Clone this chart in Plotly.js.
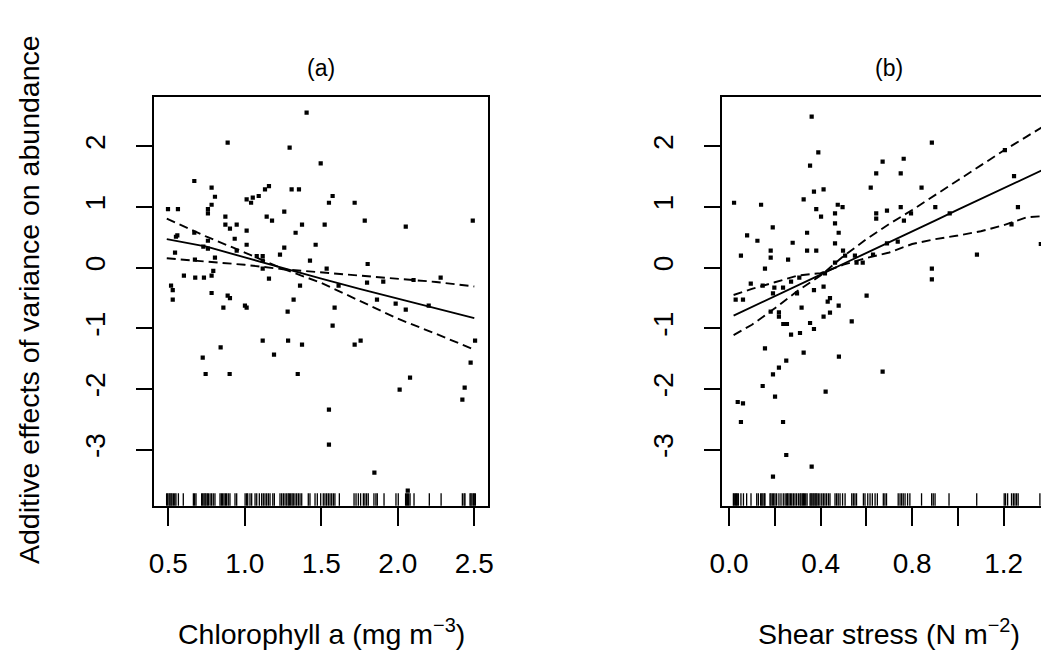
<!DOCTYPE html>
<html>
<head>
<meta charset="utf-8">
<script src="https://cdn.plot.ly/plotly-3.0.1.min.js"></script>
<style>
html,body{margin:0;padding:0;overflow:hidden;background:#fff;}
#chart{width:1100px;height:654px;}
</style>
</head>
<body>
<div id="chart"></div>
<script>
// ---------- Panel (a): Chlorophyll a ----------
const chlX = [1.404,0.888,1.293,1.496,0.670,0.783,0.805,1.012,1.041,1.052,1.091,1.132,1.158,1.306,1.354,1.574,1.550,1.718,0.783,0.759,0.759,0.498,0.563,0.873,1.143,1.178,1.258,0.873,0.947,0.903,1.012,1.374,1.522,1.784,2.052,2.490,1.332,0.670,0.550,0.559,0.934,0.759,1.012,1.463,1.258,0.729,0.759,0.947,0.544,1.230,1.078,1.117,0.805,0.674,1.117,1.426,1.803,1.535,1.117,0.794,0.783,0.602,0.676,0.733,1.158,1.905,2.103,2.280,1.799,0.518,0.529,1.361,1.613,0.783,0.529,0.888,0.903,1.319,1.864,1.986,2.052,2.202,0.860,1.001,1.012,1.280,1.587,1.574,1.117,1.283,1.374,0.842,0.725,1.191,0.744,0.901,1.346,1.718,1.757,2.505,2.476,2.080,2.012,2.437,2.422,1.550,1.550,1.847,2.065];
const chlY = [2.554,2.060,1.977,1.719,1.428,1.318,1.169,1.126,1.070,1.153,1.181,1.290,1.345,1.290,1.290,1.181,1.070,1.070,1.037,0.966,0.895,0.966,0.966,0.840,0.840,0.774,0.922,0.708,0.708,0.642,0.609,0.708,0.708,0.774,0.675,0.774,0.576,0.576,0.510,0.532,0.477,0.444,0.378,0.378,0.329,0.346,0.313,0.280,0.247,0.214,0.192,0.192,0.165,0.132,0.115,0.115,0.061,-0.016,-0.016,-0.054,-0.131,-0.131,-0.164,-0.164,-0.181,-0.230,-0.203,-0.164,-0.247,-0.296,-0.368,-0.296,-0.296,-0.417,-0.527,-0.461,-0.500,-0.527,-0.527,-0.593,-0.692,-0.626,-0.659,-0.626,-0.659,-0.725,-0.659,-0.955,-1.202,-1.202,-1.268,-1.312,-1.482,-1.433,-1.751,-1.751,-1.751,-1.268,-1.202,-1.202,-1.565,-1.812,-2.010,-1.977,-2.174,-2.339,-2.916,-3.377,-3.673];
const chlRug = [0.489,0.496,0.505,0.511,0.518,0.524,0.533,0.542,0.550,0.566,0.598,0.664,0.672,0.681,0.718,0.725,0.733,0.740,0.746,0.755,0.762,0.773,0.783,0.794,0.805,0.838,0.847,0.855,0.864,0.873,0.881,0.892,0.903,0.936,0.947,1.002,1.012,1.019,1.034,1.045,1.067,1.078,1.095,1.110,1.121,1.132,1.143,1.154,1.165,1.183,1.193,1.230,1.241,1.252,1.263,1.274,1.284,1.291,1.300,1.309,1.317,1.328,1.339,1.350,1.361,1.372,1.415,1.426,1.459,1.474,1.496,1.513,1.524,1.535,1.546,1.557,1.568,1.579,1.589,1.618,1.714,1.727,1.742,1.757,1.775,1.785,1.796,1.807,1.844,1.857,1.866,1.910,1.988,2.003,2.051,2.058,2.064,2.071,2.080,2.106,2.206,2.283,2.422,2.433,2.439,2.472,2.478,2.485,2.494,2.500,2.507];
const chlGrid  = [0.49, 0.75, 1.0, 1.25, 1.5, 1.75, 2.0, 2.25, 2.5];
const chlFit   = [0.47, 0.346, 0.17, -0.01, -0.18, -0.35, -0.51, -0.66, -0.83];
const chlBandA = [0.81, 0.51, 0.25, -0.02, -0.25, -0.55, -0.84, -1.09, -1.35];
const chlBandB = [0.155, 0.10, 0.048, -0.025, -0.078, -0.13, -0.19, -0.235, -0.31];
const chlTicks = [0.5, 1.0, 1.5, 2.0, 2.5];
const chlTickText = ["0.5","1.0","1.5","2.0","2.5"];

// ---------- Panel (b): Shear stress ----------
const shX = [0.361,0.390,0.354,0.886,0.671,0.763,0.643,0.750,0.619,0.841,0.413,0.371,0.326,0.022,0.140,0.475,0.496,0.381,0.402,0.463,0.643,0.690,0.750,0.901,0.795,0.643,0.764,0.964,1.262,1.205,1.245,1.234,1.362,1.083,0.886,0.886,0.601,0.463,0.479,0.191,0.079,0.124,0.278,0.341,0.341,0.381,0.052,0.182,0.182,0.258,0.463,0.498,0.507,0.550,0.629,0.737,0.690,0.584,0.557,0.463,0.157,0.095,0.147,0.198,0.236,0.271,0.307,0.192,0.297,0.371,0.413,0.419,0.029,0.061,0.441,0.431,0.479,0.317,0.441,0.413,0.182,0.218,0.218,0.237,0.253,0.354,0.536,0.271,0.310,0.371,0.157,0.326,0.480,0.250,0.218,0.192,0.671,0.147,0.201,0.422,0.038,0.061,0.052,0.236,0.250,0.361,0.192];
const shY = [2.488,1.900,1.680,2.059,1.746,1.795,1.555,1.555,1.318,1.318,1.290,1.252,1.126,1.070,1.037,1.037,0.999,0.966,0.840,0.895,0.895,0.939,0.999,0.999,0.895,0.807,0.774,0.895,0.999,1.938,1.510,0.713,0.390,0.214,-0.017,-0.193,-0.461,0.730,0.576,0.664,0.532,0.444,0.411,0.576,0.280,0.280,0.198,0.280,0.165,0.132,0.401,0.280,0.198,0.198,0.214,0.428,0.401,0.083,0.083,0.083,-0.017,-0.264,-0.296,-0.329,-0.329,-0.230,-0.164,-0.423,-0.423,-0.368,-0.313,-0.093,-0.527,-0.527,-0.500,-0.560,-0.626,-0.659,-0.741,-0.807,-0.725,-0.736,-0.807,-0.928,-0.928,-0.911,-0.884,-1.103,-1.076,-1.010,-1.328,-1.400,-1.466,-1.532,-1.647,-1.757,-1.713,-1.949,-2.125,-2.042,-2.213,-2.235,-2.542,-2.542,-3.086,-3.278,-3.443];
const shRug = [0.019,0.023,0.028,0.032,0.036,0.041,0.052,0.063,0.077,0.096,0.121,0.128,0.138,0.143,0.148,0.154,0.157,0.179,0.183,0.189,0.195,0.201,0.208,0.218,0.227,0.237,0.245,0.252,0.256,0.262,0.268,0.274,0.281,0.288,0.295,0.303,0.310,0.314,0.320,0.325,0.329,0.335,0.341,0.354,0.358,0.362,0.367,0.371,0.376,0.380,0.384,0.390,0.397,0.405,0.412,0.419,0.426,0.434,0.441,0.463,0.470,0.477,0.485,0.496,0.507,0.536,0.543,0.550,0.557,0.587,0.594,0.606,0.616,0.626,0.638,0.648,0.674,0.681,0.688,0.739,0.747,0.754,0.761,0.769,0.780,0.790,0.841,0.885,0.892,0.900,0.961,1.082,1.202,1.208,1.217,1.234,1.242,1.249,1.256,1.263,1.358];
const shGrid  = [0.02, 0.1, 0.2, 0.3, 0.4, 0.5, 0.6, 0.7, 0.8, 0.9, 1.0, 1.1, 1.2, 1.3, 1.37];
const shFit   = [-0.79, -0.65, -0.47, -0.29, -0.115, 0.065, 0.24, 0.42, 0.60, 0.775, 0.955, 1.13, 1.31, 1.49, 1.61];
const shBandA = [-1.11, -0.94, -0.67, -0.38, -0.13, 0.19, 0.47, 0.72, 0.95, 1.19, 1.44, 1.685, 1.93, 2.16, 2.32];
const shBandB = [-0.45, -0.35, -0.24, -0.13, -0.09, 0.05, 0.16, 0.25, 0.39, 0.47, 0.53, 0.60, 0.70, 0.83, 0.85];
const shTicks = [0, 0.4, 0.8, 1.2];
const shTickText = ["0.0","0.4","0.8","1.2"];
const shMinorTicks = [0.2, 0.6, 1.0, 1.4];

// ---------- shared y axis ----------
const yTicks = [-3, -2, -1, 0, 1, 2];
const yTickText = ["-3","-2","-1","0","1","2"];

const FONT = "Liberation Sans, Arial, Helvetica, sans-serif";
const W = 1100, H = 654;

function pts(x, y, xa, ya) {
  return {x: x, y: y, xaxis: xa, yaxis: ya, type: 'scatter', mode: 'markers',
    marker: {symbol: 'square', size: 4.2, color: '#000'}, hoverinfo: 'skip', showlegend: false};
}
function line(x, y, xa, ya, dash) {
  return {x: x, y: y, xaxis: xa, yaxis: ya, type: 'scatter', mode: 'lines',
    line: {color: '#000', width: 1.9, dash: dash}, hoverinfo: 'skip', showlegend: false};
}

const DASH = '9px,5px';
const traces = [
  pts(chlX, chlY, 'x', 'y'),
  line(chlGrid, chlFit, 'x', 'y', 'solid'),
  line(chlGrid, chlBandA, 'x', 'y', DASH),
  line(chlGrid, chlBandB, 'x', 'y', DASH),
  pts(shX, shY, 'x2', 'y2'),
  line(shGrid, shFit, 'x2', 'y2', 'solid'),
  line(shGrid, shBandA, 'x2', 'y2', DASH),
  line(shGrid, shBandB, 'x2', 'y2', DASH)
];

const shapes = [];
function rug(vals, xref, yref) {
  vals.forEach(v => shapes.push({type: 'line', xref: xref, yref: yref + ' domain',
    x0: v, x1: v, y0: 0, y1: 0.0305, line: {color: '#000', width: 1.3}}));
}
rug(chlRug, 'x', 'y');
rug(shRug, 'x2', 'y2');

const tickFont = {family: FONT, size: 28, color: '#000'};
function xAxis(domPx, range, tv, tt, anchor, minorVals) {
  const ax = {domain: [domPx[0] / W, domPx[1] / W], range: range, anchor: anchor,
    tickmode: 'array', tickvals: tv, ticktext: tt, ticks: 'outside', ticklen: 18, tickwidth: 2,
    tickcolor: '#000', showline: true, mirror: true, linewidth: 2, linecolor: '#000',
    showgrid: false, zeroline: false, tickfont: tickFont, ticklabelstandoff: 14, fixedrange: true};
  if (minorVals) {
    ax.minor = {tickmode: 'array', tickvals: minorVals, ticks: 'outside', ticklen: 18,
      tickwidth: 2, tickcolor: '#000', showgrid: false};
  }
  return ax;
}
function yAxis(anchor) {
  return {domain: [1 - 505.7 / H, 1 - 97.3 / H], range: [-3.921, 2.807], anchor: anchor,
    tickmode: 'array', tickvals: yTicks, ticktext: yTickText, tickangle: -90,
    ticks: 'outside', ticklen: 16, tickwidth: 2, tickcolor: '#000',
    showline: true, mirror: true, linewidth: 2, linecolor: '#000',
    showgrid: false, zeroline: false, tickfont: tickFont, ticklabelstandoff: 20, fixedrange: true};
}

const ann = (text, xpx, ypx, size, angle) => ({text: text, xref: 'paper', yref: 'paper',
  x: xpx / W, y: 1 - ypx / H, xanchor: 'center', yanchor: 'middle', showarrow: false,
  textangle: angle || 0, font: {family: FONT, size: size, color: '#000'}});

const layout = {
  width: W, height: H, margin: {l: 0, r: 0, t: 0, b: 0},
  paper_bgcolor: '#fff', plot_bgcolor: '#fff', showlegend: false,
  xaxis: xAxis([154.3, 488.3], [0.4085, 2.5915], chlTicks, chlTickText, 'y'),
  yaxis: yAxis('x'),
  xaxis2: xAxis([721.7, 1055.7], [-0.032, 1.427], shTicks, shTickText, 'y2', shMinorTicks),
  yaxis2: yAxis('x2'),
  shapes: shapes,
  annotations: [
    ann('(a)', 321.3, 68, 23),
    ann('(b)', 888.7, 68, 23),
    ann('Chlorophyll a (mg m<sup>\u22123</sup>)', 321.3, 632, 28.5),
    ann('Shear stress (N m<sup>\u22122</sup>)', 888.7, 632, 28.5),
    ann('Additive effects of variance on abundance', 29, 300, 28.5, -90)
  ]
};

Plotly.newPlot('chart', traces, layout, {displayModeBar: false, staticPlot: true});
</script>
</body>
</html>
